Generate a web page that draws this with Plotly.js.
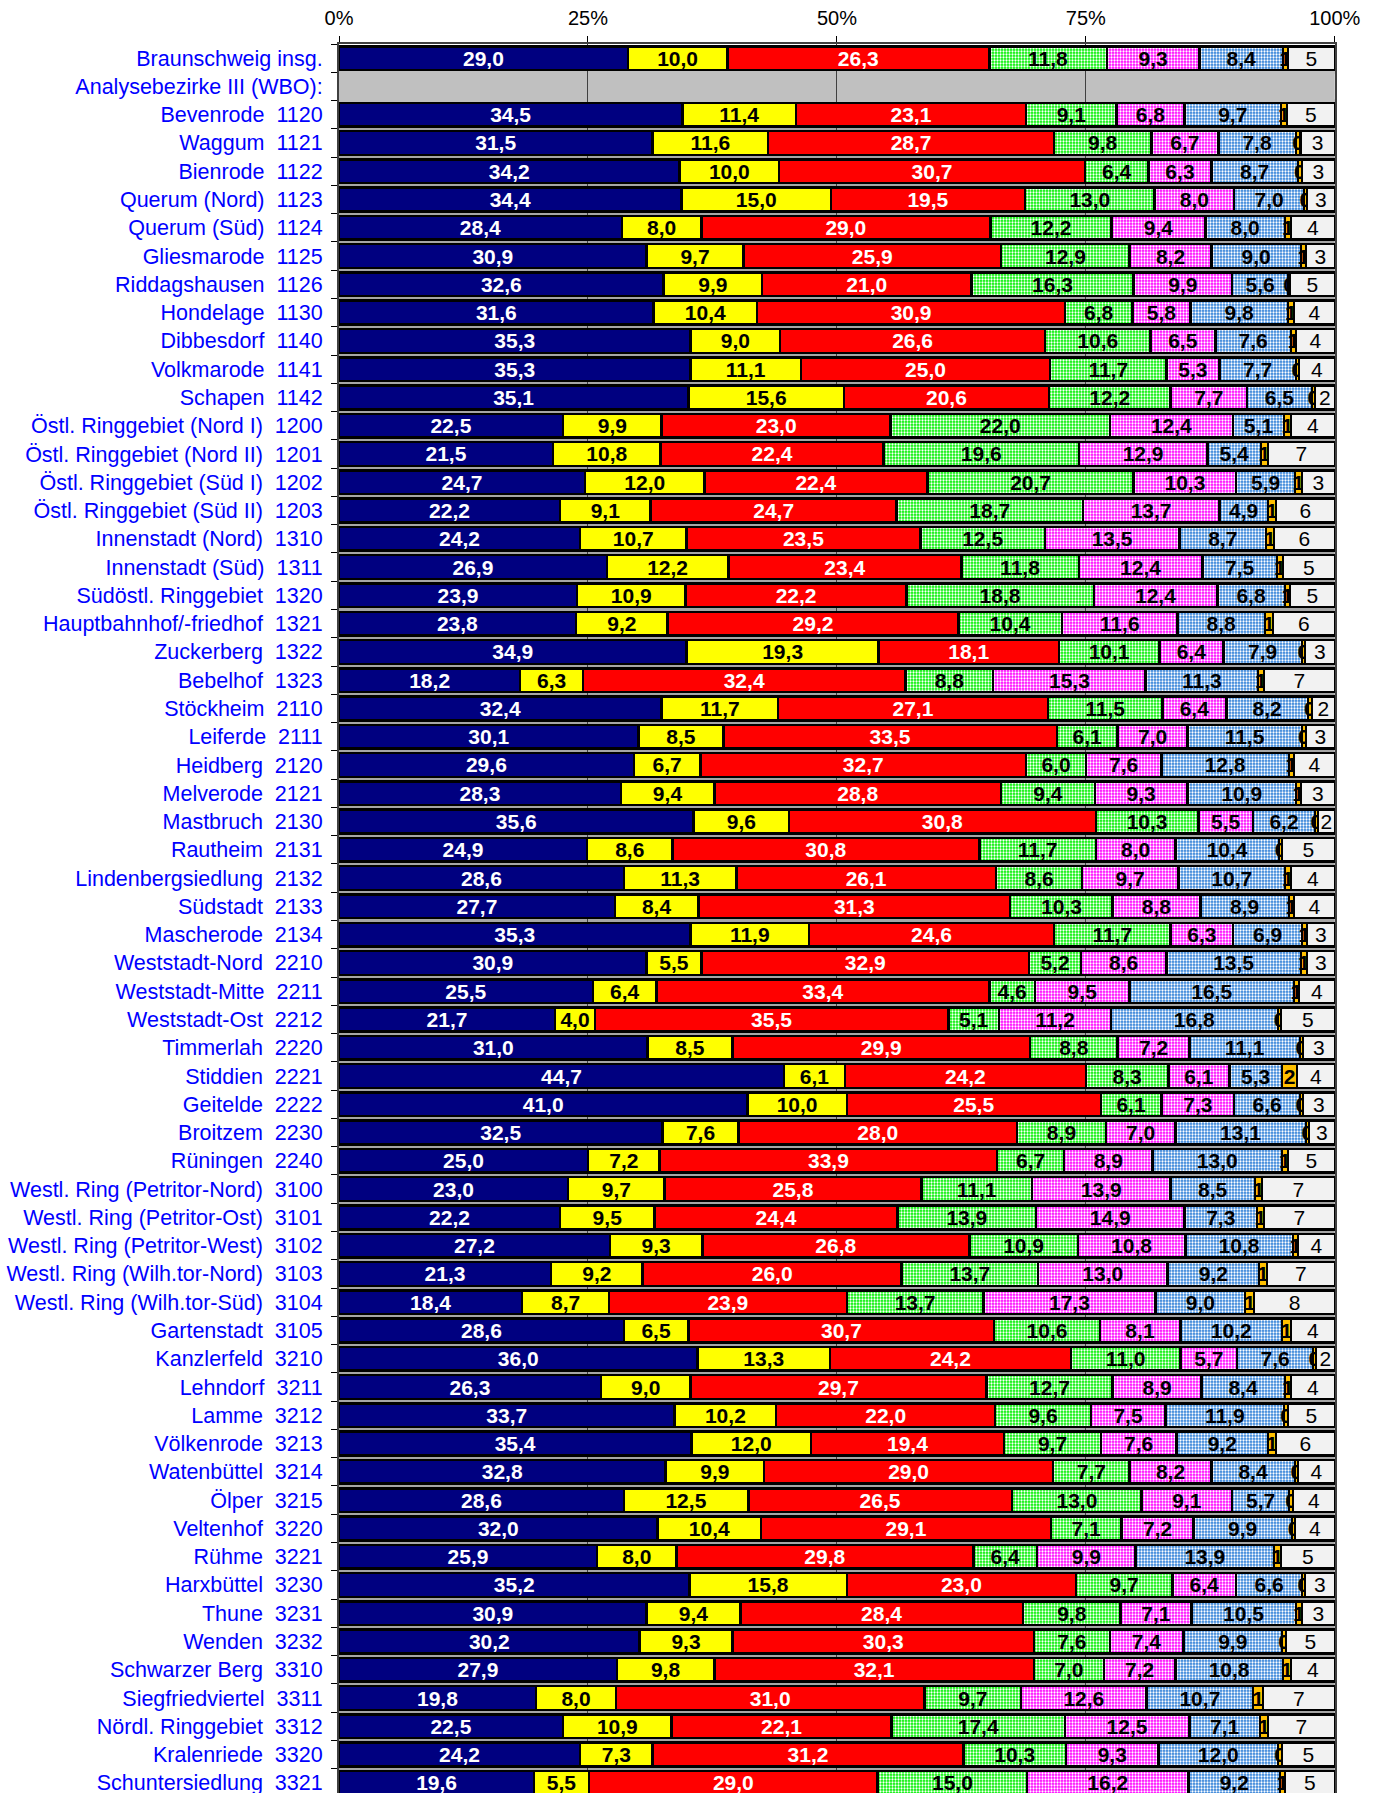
<!DOCTYPE html>
<html>
<head>
<meta charset="utf-8">
<script src="https://cdn.plot.ly/plotly-3.0.1.min.js"></script>
<style>
  html, body { margin: 0; padding: 0; background: #ffffff; overflow: hidden; }
  #plot { width: 1377px; height: 1800px; }
</style>
</head>
<body>
<div id="plot"></div>
<script>
// row labels, top to bottom (second row is only a gray heading band)
let districts = [
    "Braunschweig insg.", "Analysebezirke III (WBO):",
    "Bevenrode\u00a0 1120", "Waggum\u00a0 1121", "Bienrode\u00a0 1122", "Querum (Nord)\u00a0 1123",
    "Querum (Süd)\u00a0 1124", "Gliesmarode\u00a0 1125", "Riddagshausen\u00a0 1126", "Hondelage\u00a0 1130",
    "Dibbesdorf\u00a0 1140", "Volkmarode\u00a0 1141", "Schapen\u00a0 1142",
    "Östl. Ringgebiet (Nord I)\u00a0 1200", "Östl. Ringgebiet (Nord II)\u00a0 1201",
    "Östl. Ringgebiet (Süd I)\u00a0 1202", "Östl. Ringgebiet (Süd II)\u00a0 1203",
    "Innenstadt (Nord)\u00a0 1310", "Innenstadt (Süd)\u00a0 1311", "Südöstl. Ringgebiet\u00a0 1320",
    "Hauptbahnhof/-friedhof\u00a0 1321", "Zuckerberg\u00a0 1322", "Bebelhof\u00a0 1323",
    "Stöckheim\u00a0 2110", "Leiferde\u00a0 2111", "Heidberg\u00a0 2120", "Melverode\u00a0 2121",
    "Mastbruch\u00a0 2130", "Rautheim\u00a0 2131", "Lindenbergsiedlung\u00a0 2132", "Südstadt\u00a0 2133",
    "Mascherode\u00a0 2134", "Weststadt-Nord\u00a0 2210", "Weststadt-Mitte\u00a0 2211", "Weststadt-Ost\u00a0 2212",
    "Timmerlah\u00a0 2220", "Stiddien\u00a0 2221", "Geitelde\u00a0 2222", "Broitzem\u00a0 2230", "Rüningen\u00a0 2240",
    "Westl. Ring (Petritor-Nord)\u00a0 3100", "Westl. Ring (Petritor-Ost)\u00a0 3101",
    "Westl. Ring (Petritor-West)\u00a0 3102", "Westl. Ring (Wilh.tor-Nord)\u00a0 3103",
    "Westl. Ring (Wilh.tor-Süd)\u00a0 3104", "Gartenstadt\u00a0 3105", "Kanzlerfeld\u00a0 3210",
    "Lehndorf\u00a0 3211", "Lamme\u00a0 3212", "Völkenrode\u00a0 3213", "Watenbüttel\u00a0 3214", "Ölper\u00a0 3215",
    "Veltenhof\u00a0 3220", "Rühme\u00a0 3221", "Harxbüttel\u00a0 3230", "Thune\u00a0 3231", "Wenden\u00a0 3232",
    "Schwarzer Berg\u00a0 3310", "Siegfriedviertel\u00a0 3311", "Nördl. Ringgebiet\u00a0 3312",
    "Kralenriede\u00a0 3320", "Schuntersiedlung\u00a0 3321"
];

// shares in percent, same order as districts
let cdu = [29.0, null, 34.5, 31.5, 34.2, 34.4, 28.4, 30.9, 32.6, 31.6, 35.3, 35.3, 35.1, 22.5, 21.5, 24.7, 22.2, 24.2, 26.9, 23.9, 23.8, 34.9, 18.2, 32.4, 30.1, 29.6, 28.3, 35.6, 24.9, 28.6, 27.7, 35.3, 30.9, 25.5, 21.7, 31.0, 44.7, 41.0, 32.5, 25.0, 23.0, 22.2, 27.2, 21.3, 18.4, 28.6, 36.0, 26.3, 33.7, 35.4, 32.8, 28.6, 32.0, 25.9, 35.2, 30.9, 30.2, 27.9, 19.8, 22.5, 24.2, 19.6];
let fdp = [10.0, null, 11.4, 11.6, 10.0, 15.0, 8.0, 9.7, 9.9, 10.4, 9.0, 11.1, 15.6, 9.9, 10.8, 12.0, 9.1, 10.7, 12.2, 10.9, 9.2, 19.3, 6.3, 11.7, 8.5, 6.7, 9.4, 9.6, 8.6, 11.3, 8.4, 11.9, 5.5, 6.4, 4.0, 8.5, 6.1, 10.0, 7.6, 7.2, 9.7, 9.5, 9.3, 9.2, 8.7, 6.5, 13.3, 9.0, 10.2, 12.0, 9.9, 12.5, 10.4, 8.0, 15.8, 9.4, 9.3, 9.8, 8.0, 10.9, 7.3, 5.5];
let spd = [26.3, null, 23.1, 28.7, 30.7, 19.5, 29.0, 25.9, 21.0, 30.9, 26.6, 25.0, 20.6, 23.0, 22.4, 22.4, 24.7, 23.5, 23.4, 22.2, 29.2, 18.1, 32.4, 27.1, 33.5, 32.7, 28.8, 30.8, 30.8, 26.1, 31.3, 24.6, 32.9, 33.4, 35.5, 29.9, 24.2, 25.5, 28.0, 33.9, 25.8, 24.4, 26.8, 26.0, 23.9, 30.7, 24.2, 29.7, 22.0, 19.4, 29.0, 26.5, 29.1, 29.8, 23.0, 28.4, 30.3, 32.1, 31.0, 22.1, 31.2, 29.0];
let gruene = [11.8, null, 9.1, 9.8, 6.4, 13.0, 12.2, 12.9, 16.3, 6.8, 10.6, 11.7, 12.2, 22.0, 19.6, 20.7, 18.7, 12.5, 11.8, 18.8, 10.4, 10.1, 8.8, 11.5, 6.1, 6.0, 9.4, 10.3, 11.7, 8.6, 10.3, 11.7, 5.2, 4.6, 5.1, 8.8, 8.3, 6.1, 8.9, 6.7, 11.1, 13.9, 10.9, 13.7, 13.7, 10.6, 11.0, 12.7, 9.6, 9.7, 7.7, 13.0, 7.1, 6.4, 9.7, 9.8, 7.6, 7.0, 9.7, 17.4, 10.3, 15.0];
let linke = [9.3, null, 6.8, 6.7, 6.3, 8.0, 9.4, 8.2, 9.9, 5.8, 6.5, 5.3, 7.7, 12.4, 12.9, 10.3, 13.7, 13.5, 12.4, 12.4, 11.6, 6.4, 15.3, 6.4, 7.0, 7.6, 9.3, 5.5, 8.0, 9.7, 8.8, 6.3, 8.6, 9.5, 11.2, 7.2, 6.1, 7.3, 7.0, 8.9, 13.9, 14.9, 10.8, 13.0, 17.3, 8.1, 5.7, 8.9, 7.5, 7.6, 8.2, 9.1, 7.2, 9.9, 6.4, 7.1, 7.4, 7.2, 12.6, 12.5, 9.3, 16.2];
let afd = [8.4, null, 9.7, 7.8, 8.7, 7.0, 8.0, 9.0, 5.6, 9.8, 7.6, 7.7, 6.5, 5.1, 5.4, 5.9, 4.9, 8.7, 7.5, 6.8, 8.8, 7.9, 11.3, 8.2, 11.5, 12.8, 10.9, 6.2, 10.4, 10.7, 8.9, 6.9, 13.5, 16.5, 16.8, 11.1, 5.3, 6.6, 13.1, 13.0, 8.5, 7.3, 10.8, 9.2, 9.0, 10.2, 7.6, 8.4, 11.9, 9.2, 8.4, 5.7, 9.9, 13.9, 6.6, 10.5, 9.9, 10.8, 10.7, 7.1, 12.0, 9.2];
let piraten = [0.5, null, 0.6, 0.45, 0.4, 0.3, 0.6, 0.5, 0.2, 0.6, 0.5, 0.3, 0.3, 0.7, 0.7, 0.7, 0.8, 0.8, 0.6, 0.5, 0.8, 0.3, 0.6, 0.4, 0.4, 0.5, 0.5, 0.3, 0.3, 0.6, 0.5, 0.5, 0.6, 0.5, 0.3, 0.3, 1.5, 0.3, 0.3, 0.6, 0.7, 0.7, 0.5, 0.8, 0.9, 0.9, 0.3, 0.6, 0.4, 0.8, 0.3, 0.4, 0.3, 0.7, 0.3, 0.6, 0.4, 0.8, 1.0, 0.8, 0.4, 0.5];
let sonstige = [4.7, null, 4.8, 3.45, 3.3, 2.8, 4.4, 2.9, 4.5, 4.1, 3.9, 3.6, 2.0, 4.4, 6.7, 3.3, 5.9, 6.1, 5.2, 4.5, 6.2, 3.0, 7.1, 2.3, 2.9, 4.1, 3.4, 1.7, 5.3, 4.4, 4.1, 2.8, 2.8, 3.6, 5.4, 3.2, 3.8, 3.2, 2.6, 4.7, 7.3, 7.1, 3.7, 6.8, 8.1, 4.4, 1.9, 4.4, 4.7, 5.9, 3.7, 4.2, 4.0, 5.4, 3.0, 3.3, 4.9, 4.4, 7.2, 6.7, 5.3, 5.0];

let fontFamily = "Liberation Sans, Arial, sans-serif";

// label with one decimal and a german comma
function oneDecimal(v) {
    return v == null ? "" : v.toFixed(1).replace(".", ",");
}
function whole(v) {
    return v == null ? "" : String(Math.round(v));
}

// one stacked segment per party
function segment(values, fill, textColor, pattern, labelFn, bold) {
    let marker = { color: fill, line: { color: "#000000", width: 2.5 } };
    if (pattern) {
        marker.pattern = { shape: ".", bgcolor: fill, fgcolor: "#ffffff", size: 3, solidity: 0.45 };
    }
    return {
        type: "bar",
        orientation: "h",
        y: districts,
        x: values,
        text: values.map(labelFn),
        textposition: "inside",
        insidetextanchor: "middle",
        textangle: 0,
        constraintext: "none",
        insidetextfont: { family: fontFamily, size: 21, color: textColor, weight: bold ? "bold" : "normal" },
        marker: marker,
        hoverinfo: "skip",
        cliponaxis: false
    };
}

let data = [
    segment(cdu, "#000080", "#ffffff", false, oneDecimal, true),
    segment(fdp, "#ffff00", "#000000", false, oneDecimal, true),
    segment(spd, "#ff0000", "#ffffff", false, oneDecimal, true),
    segment(gruene, "#00f000", "#000000", true, oneDecimal, true),
    segment(linke, "#ff00ff", "#000000", true, oneDecimal, true),
    segment(afd, "#2f80d8", "#000000", true, oneDecimal, true),
    segment(piraten, "#ffc000", "#000000", false, whole, true),
    segment(sonstige, "#f2f2f2", "#000000", false, whole, false)
];

// gray separators between rows + gray heading band
let shapes = [];
for (let i = 0; i < districts.length - 1; i++) {
    shapes.push({
        type: "line", layer: "below", xref: "x", yref: "y",
        x0: 0, x1: 100, y0: i + 0.5, y1: i + 0.5,
        line: { color: "#a6a6a6", width: 3 }
    });
}
shapes.push({
    type: "rect", layer: "below", xref: "x", yref: "y",
    x0: 0, x1: 100, y0: 0.42, y1: 1.58,
    fillcolor: "#c0c0c0", line: { width: 0 }
});

let layout = {
    width: 1377,
    height: 1800,
    margin: { l: 339, r: 42, t: 44, b: 3 },
    barmode: "stack",
    bargap: 0.16,
    showlegend: false,
    paper_bgcolor: "#ffffff",
    plot_bgcolor: "#ffffff",
    font: { family: fontFamily, size: 20, color: "#000000" },
    xaxis: {
        side: "top",
        // tiny headroom so float sums like 100.00000001 keep their labels
        range: [0, 100.02],
        tickvals: [0, 25, 50, 75, 100],
        ticktext: ["0%", "25%", "50%", "75%", "100%"],
        ticks: "outside",
        ticklen: 6,
        tickcolor: "#000000",
        ticklabelstandoff: 3,
        tickfont: { family: fontFamily, size: 20, color: "#000000" },
        showgrid: true,
        gridcolor: "#404040",
        gridwidth: 1,
        zeroline: false,
        showline: true,
        mirror: true,
        linecolor: "#404040",
        linewidth: 2,
        fixedrange: true
    },
    yaxis: {
        type: "category",
        autorange: "reversed",
        ticks: "outside",
        tickson: "boundaries",
        ticklen: 6,
        tickcolor: "#000000",
        ticklabelstandoff: 10,
        tickfont: { family: fontFamily, size: 21.5, color: "#0000ff" },
        showgrid: false,
        showline: true,
        mirror: true,
        linecolor: "#404040",
        linewidth: 2,
        automargin: false,
        fixedrange: true
    },
    shapes: shapes
};

Plotly.newPlot("plot", data, layout, { staticPlot: true, displayModeBar: false });
</script>
</body>
</html>
